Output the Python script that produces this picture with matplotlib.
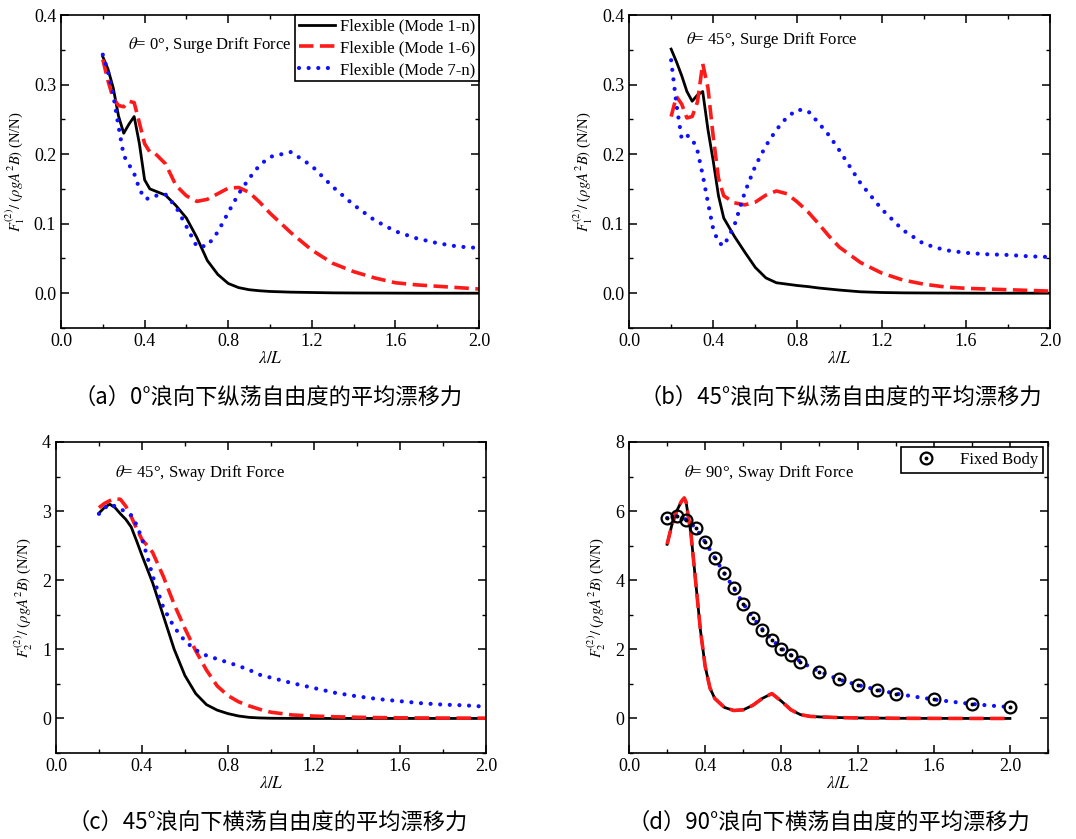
import numpy as np
import matplotlib
matplotlib.use('Agg')
import matplotlib.pyplot as plt
from matplotlib.ticker import MultipleLocator
from matplotlib.lines import Line2D

plt.rcParams['font.family'] = ['Liberation Serif', 'DejaVu Serif']
plt.rcParams['mathtext.fontset'] = 'stix'

# общая сетка по λ/L для (a)-(c)
x_abc = [0.2, 0.225, 0.25, 0.275, 0.3, 0.325, 0.35, 0.375, 0.4, 0.425, 0.45,
         0.5, 0.55, 0.6, 0.65, 0.7, 0.75, 0.8, 0.85, 0.9, 0.95, 1.0,
         1.1, 1.2, 1.3, 1.4, 1.5, 1.6, 1.7, 1.8, 1.9, 2.0]

# (a) theta = 0, surge
a_full = [0.340, 0.322, 0.295, 0.255, 0.230, 0.243, 0.254, 0.215, 0.163, 0.150, 0.147,
          0.141, 0.126, 0.108, 0.080, 0.047, 0.027, 0.014, 0.008, 0.005, 0.0035, 0.0025,
          0.0015, 0.001, 0.0005, 0.0003, 0.0002, 0.0001, 0.0, 0.0, 0.0, 0.0]
a_rigid = [0.336, 0.305, 0.280, 0.270, 0.268, 0.276, 0.274, 0.245, 0.215, 0.203, 0.201,
           0.186, 0.155, 0.140, 0.132, 0.135, 0.143, 0.151, 0.152, 0.145, 0.131, 0.115,
           0.087, 0.062, 0.043, 0.031, 0.022, 0.015, 0.012, 0.010, 0.008, 0.006]
a_elastic = [0.343, 0.318, 0.285, 0.240, 0.198, 0.185, 0.172, 0.150, 0.136, 0.136, 0.140,
             0.142, 0.124, 0.096, 0.067, 0.068, 0.088, 0.116, 0.143, 0.165, 0.184, 0.196,
             0.203, 0.183, 0.153, 0.127, 0.105, 0.089, 0.079, 0.072, 0.067, 0.065]

# (b) theta = 45, surge
b_full = [0.351, 0.333, 0.313, 0.290, 0.276, 0.285, 0.290, 0.235, 0.190, 0.140, 0.108,
          0.082, 0.059, 0.037, 0.022, 0.015, 0.013, 0.011, 0.0095, 0.0075, 0.006, 0.0045,
          0.002, 0.001, 0.0005, 0.0003, 0.0002, 0.0001, 0.0, 0.0, 0.0, 0.0]
b_rigid = [0.254, 0.283, 0.272, 0.252, 0.254, 0.275, 0.330, 0.295, 0.225, 0.165, 0.140,
           0.130, 0.127, 0.131, 0.141, 0.147, 0.143, 0.131, 0.117, 0.100, 0.082, 0.066,
           0.044, 0.029, 0.019, 0.013, 0.009, 0.007, 0.006, 0.005, 0.004, 0.003]
b_elastic = [0.335, 0.272, 0.222, 0.227, 0.222, 0.205, 0.170, 0.130, 0.092, 0.073, 0.068,
             0.097, 0.145, 0.183, 0.212, 0.235, 0.253, 0.264, 0.262, 0.245, 0.227, 0.205,
             0.158, 0.121, 0.091, 0.071, 0.062, 0.058, 0.056, 0.055, 0.053, 0.052]

# (c) theta = 45, sway
c_full = [2.97, 3.05, 3.10, 3.05, 2.96, 2.88, 2.77, 2.57, 2.36, 2.16, 1.96,
          1.48, 1.00, 0.62, 0.36, 0.20, 0.12, 0.07, 0.035, 0.015, 0.007, 0.003,
          0.001, 0.0, 0.0, 0.0, 0.0, 0.0, 0.0, 0.0, 0.0, 0.0]
c_rigid = [3.05, 3.11, 3.15, 3.18, 3.17, 3.07, 2.92, 2.75, 2.59, 2.50, 2.40,
           2.05, 1.65, 1.30, 0.98, 0.70, 0.47, 0.33, 0.24, 0.18, 0.13, 0.09,
           0.05, 0.034, 0.024, 0.017, 0.012, 0.009, 0.007, 0.006, 0.005, 0.004]
c_elastic = [2.96, 3.04, 3.10, 3.07, 3.03, 2.99, 2.94, 2.80, 2.60, 2.34, 2.06,
             1.60, 1.32, 1.12, 0.99, 0.91, 0.86, 0.81, 0.76, 0.70, 0.63, 0.59,
             0.51, 0.44, 0.37, 0.32, 0.28, 0.25, 0.22, 0.20, 0.19, 0.17]

# (d) theta = 90, sway
x_d = [0.2, 0.225, 0.25, 0.275, 0.29, 0.3, 0.325, 0.35, 0.375, 0.4, 0.425, 0.45,
       0.5, 0.55, 0.6, 0.65, 0.7, 0.75, 0.8, 0.85, 0.9, 0.95, 1.0,
       1.1, 1.2, 1.3, 1.4, 1.5, 1.6, 1.7, 1.8, 1.9, 2.0]
d_full = [5.04, 5.60, 6.00, 6.28, 6.38, 6.25, 5.35, 3.95, 2.55, 1.50, 0.88, 0.58,
          0.32, 0.23, 0.25, 0.38, 0.58, 0.72, 0.50, 0.25, 0.11, 0.06, 0.045,
          0.025, 0.015, 0.01, 0.005, 0.003, 0.002, 0.001, 0.0, 0.0, 0.0]
d_rigid = [5.04, 5.60, 6.00, 6.28, 6.38, 6.25, 5.35, 3.95, 2.55, 1.50, 0.88, 0.58,
           0.32, 0.23, 0.25, 0.38, 0.58, 0.72, 0.50, 0.25, 0.11, 0.06, 0.045,
           0.025, 0.015, 0.01, 0.005, 0.003, 0.002, 0.001, 0.0, 0.0, 0.0]
d_elastic = [5.80, 5.84, 5.85, 5.82, 5.79, 5.75, 5.65, 5.50, 5.32, 5.10, 4.88, 4.65,
             4.20, 3.77, 3.32, 2.92, 2.58, 2.28, 2.03, 1.83, 1.65, 1.49, 1.36,
             1.13, 0.97, 0.83, 0.72, 0.63, 0.55, 0.48, 0.42, 0.37, 0.33]
x_fixed = [0.2, 0.25, 0.3, 0.35, 0.4, 0.45, 0.5, 0.55, 0.6, 0.65, 0.7, 0.75, 0.8,
           0.85, 0.9, 1.0, 1.1, 1.2, 1.3, 1.4, 1.6, 1.8, 2.0]
d_fixed = [5.80, 5.85, 5.75, 5.50, 5.10, 4.65, 4.20, 3.78, 3.31, 2.91, 2.57, 2.28, 2.02,
           1.83, 1.64, 1.35, 1.13, 0.97, 0.83, 0.72, 0.55, 0.41, 0.33]

labels = ['Flexible (Mode 1-n)', 'Flexible (Mode 1-6)', 'Flexible (Mode 7-n)']
notes = [r'$\theta$= 0°, Surge Drift Force', r'$\theta$= 45°, Surge Drift Force',
         r'$\theta$= 45°, Sway Drift Force', r'$\theta$= 90°, Sway Drift Force']
captions = ['（a）0°浪向下纵荡自由度的平均漂移力', '（b）45°浪向下纵荡自由度的平均漂移力',
            '（c）45°浪向下横荡自由度的平均漂移力', '（d）90°浪向下横荡自由度的平均漂移力']
ylab1 = r'$F_1^{(2)}/$ $(\rho g A^2 B)$ (N/N)'
ylab2 = r'$F_2^{(2)}/$ $(\rho g A^2 B)$ (N/N)'

fig = plt.figure(figsize=(10.76, 8.39), dpi=100)
ax_a = fig.add_axes([0.0567, 0.6091, 0.3885, 0.3730])
ax_b = fig.add_axes([0.5846, 0.6091, 0.3913, 0.3730])
ax_c = fig.add_axes([0.0520, 0.1025, 0.3996, 0.3707])
ax_d = fig.add_axes([0.5846, 0.1025, 0.3894, 0.3707])

red_dash = (0, (4, 1.8))
blue_dot = (0, (0.01, 2.3))


def draw_three(ax, x, full, rigid, elastic):
    ax.plot(x, full, color='black', lw=2.0, ls='-', label=labels[0])
    ax.plot(x, rigid, color='#ff1a1a', lw=2.6, ls=red_dash, label=labels[1])
    ax.plot(x, elastic, color='#1010ff', lw=3.0, ls=blue_dot,
            dash_capstyle='round', label=labels[2])


def style_axes(ax, ylim, ymaj, ymin, xmax, ylab):
    ax.set_xlim(0, xmax)
    ax.set_ylim(*ylim)
    ax.xaxis.set_major_locator(MultipleLocator(0.4))
    ax.xaxis.set_minor_locator(MultipleLocator(0.2))
    ax.yaxis.set_major_locator(MultipleLocator(ymaj))
    ax.yaxis.set_minor_locator(MultipleLocator(ymin))
    ax.tick_params(which='both', direction='in', top=True, right=True, labelsize=13)
    ax.tick_params(which='major', length=6, width=1.1)
    ax.tick_params(which='minor', length=3, width=1.0)
    for sp in ax.spines.values():
        sp.set_linewidth(1.2)
    ax.set_xlabel(r'$\lambda/L$', fontsize=12.5, labelpad=1)
    ax.set_ylabel(ylab, fontsize=10.5, labelpad=5)


draw_three(ax_a, x_abc, a_full, a_rigid, a_elastic)
draw_three(ax_b, x_abc, b_full, b_rigid, b_elastic)
draw_three(ax_c, x_abc, c_full, c_rigid, c_elastic)
draw_three(ax_d, x_d, d_full, d_rigid, d_elastic)

# фиксированное тело: кружок с точкой
ax_d.plot(x_fixed, d_fixed, ls='none', marker='o', ms=8.5, mfc='none', mec='black', mew=1.6)
ax_d.plot(x_fixed, d_fixed, ls='none', marker='o', ms=1.8, color='black')

style_axes(ax_a, (-0.05, 0.4), 0.1, 0.05, 2.0, ylab1)
style_axes(ax_b, (-0.05, 0.4), 0.1, 0.05, 2.0, ylab1)
style_axes(ax_c, (-0.5, 4), 1, 0.5, 2.0, ylab2)
style_axes(ax_d, (-1, 8), 2, 1, 2.2, ylab2)
for ax in (ax_a, ax_b):
    ax.yaxis.set_major_formatter(plt.FormatStrFormatter('%.1f'))
for ax in (ax_a, ax_b, ax_c, ax_d):
    ax.xaxis.set_major_formatter(plt.FormatStrFormatter('%.1f'))

leg = ax_a.legend(loc='upper right', fontsize=12, frameon=True, fancybox=False,
                  edgecolor='black', framealpha=1, borderaxespad=0, handlelength=2.2,
                  borderpad=0.2, labelspacing=0.35, handletextpad=0.3)
leg.get_frame().set_linewidth(1.2)

h_circ = Line2D([], [], ls='none', marker='o', ms=8.5, mfc='none', mec='black', mew=1.6)
h_dot = Line2D([], [], ls='none', marker='o', ms=1.8, color='black')
leg2 = ax_d.legend([(h_circ, h_dot)], ['Fixed Body'], loc='upper right', fontsize=12,
                   frameon=True, fancybox=False, edgecolor='black', framealpha=1,
                   borderaxespad=0.3, handlelength=2.4, borderpad=0.3)
leg2.get_frame().set_linewidth(1.2)

note_pos = [(ax_a, 0.16, 0.905), (ax_b, 0.135, 0.92), (ax_c, 0.137, 0.90), (ax_d, 0.131, 0.90)]
for (ax, tx, ty), txt in zip(note_pos, notes):
    ax.text(tx, ty, txt, transform=ax.transAxes, fontsize=12, va='center', ha='left')

cap_pos = [(0.249, 0.526), (0.781, 0.526), (0.249, 0.020), (0.770, 0.020)]
for (cx, cy), txt in zip(cap_pos, captions):
    fig.text(cx, cy, txt, ha='center', va='center', fontsize=16,
             family=['Noto Sans CJK SC', 'DejaVu Sans'])

fig.savefig('out.png', dpi=100)
